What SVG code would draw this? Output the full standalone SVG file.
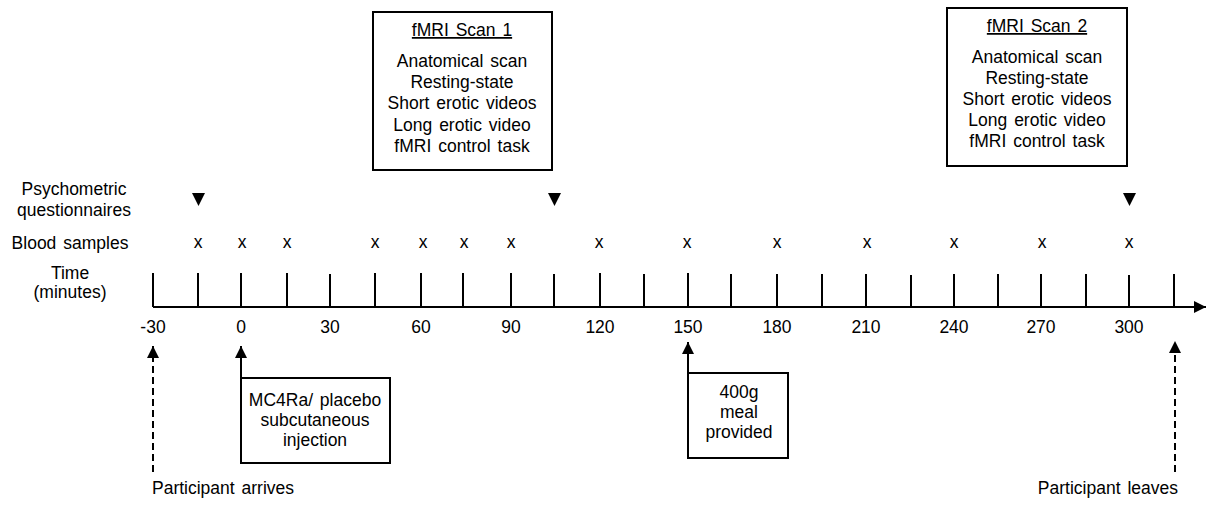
<svg xmlns="http://www.w3.org/2000/svg" width="1208" height="507" viewBox="0 0 1208 507">
<style>
text{font-family:"Liberation Sans",Arial,sans-serif;font-size:17.5px;word-spacing:2px;fill:#000}
.c{text-anchor:middle}
.ln{stroke:#000;stroke-width:2;fill:none}
.box{stroke:#000;stroke-width:2;fill:#fff}
.dash{stroke-dasharray:7 4}
.tri{fill:#000}
</style>
<defs>
<marker id="ah" viewBox="0 0 12 12" refX="12" refY="6" markerWidth="12" markerHeight="12" markerUnits="userSpaceOnUse" orient="auto">
<path d="M0,0 L12,6 L0,12 Z" fill="#000"/>
</marker>
</defs>
<rect width="1208" height="507" fill="#fff"/>

<g id="row-labels">
<text class="c" x="74" y="195">Psychometric</text>
<text class="c" x="74" y="216">questionnaires</text>
<text class="c" x="70" y="249">Blood samples</text>
<text class="c" x="70" y="279">Time</text>
<text class="c" x="70" y="298">(minutes)</text>
</g>

<g id="scan1">
<rect class="box" x="373" y="12" width="179" height="158"/>
<text class="c" x="462" y="36" text-decoration="underline">fMRI Scan 1</text>
<text class="c" x="462" y="67">Anatomical scan</text>
<text class="c" x="462" y="88">Resting-state</text>
<text class="c" x="462" y="109">Short erotic videos</text>
<text class="c" x="462" y="131">Long erotic video</text>
<text class="c" x="462" y="152">fMRI control task</text>
</g>

<g id="scan2">
<rect class="box" x="947" y="8" width="180" height="158"/>
<text class="c" x="1037" y="32" text-decoration="underline">fMRI Scan 2</text>
<text class="c" x="1037" y="63">Anatomical scan</text>
<text class="c" x="1037" y="84">Resting-state</text>
<text class="c" x="1037" y="105">Short erotic videos</text>
<text class="c" x="1037" y="126">Long erotic video</text>
<text class="c" x="1037" y="147">fMRI control task</text>
</g>

<g id="questionnaires">
<polygon class="tri" points="192,193 205,193 198.5,206"/>
<polygon class="tri" points="548,193 561,193 554.5,206"/>
<polygon class="tri" points="1123,193 1136,193 1129.5,206"/>
</g>

<g id="blood-samples">
<text class="c" x="198" y="248">x</text>
<text class="c" x="242" y="248">x</text>
<text class="c" x="287" y="248">x</text>
<text class="c" x="375" y="248">x</text>
<text class="c" x="423" y="248">x</text>
<text class="c" x="464" y="248">x</text>
<text class="c" x="511" y="248">x</text>
<text class="c" x="599" y="248">x</text>
<text class="c" x="687" y="248">x</text>
<text class="c" x="777" y="248">x</text>
<text class="c" x="867" y="248">x</text>
<text class="c" x="954" y="248">x</text>
<text class="c" x="1042" y="248">x</text>
<text class="c" x="1129" y="248">x</text>
</g>

<g id="timeline">
<line class="ln" x1="153" y1="307" x2="1206" y2="307" marker-end="url(#ah)"/>
<path class="ln" d="M153,273V307 M198,273V307 M241,273V307 M287,273V307 M330,274V307 M375,273V307 M421,273V307 M463,273V307 M511,273V307 M554,274V307 M600,273V307 M644,274V307 M688,273V307 M731,274V307 M777,274V307 M822,274V307 M866,274V307 M911,275V307 M954,274V307 M998,274V307 M1041,274V307 M1086,274V307 M1129,275V307 M1174,274V307"/>
<text class="c" x="153" y="333">-30</text>
<text class="c" x="241" y="333">0</text>
<text class="c" x="330" y="333">30</text>
<text class="c" x="421" y="333">60</text>
<text class="c" x="511" y="333">90</text>
<text class="c" x="600" y="333">120</text>
<text class="c" x="688" y="333">150</text>
<text class="c" x="777" y="333">180</text>
<text class="c" x="866" y="333">210</text>
<text class="c" x="954" y="333">240</text>
<text class="c" x="1041" y="333">270</text>
<text class="c" x="1129" y="333">300</text>
</g>

<g id="injection">
<rect class="box" x="241" y="378" width="149" height="85"/>
<text class="c" x="315" y="406">MC4Ra/ placebo</text>
<text class="c" x="315" y="426">subcutaneous</text>
<text class="c" x="315" y="446">injection</text>
</g>

<g id="meal">
<rect class="box" x="688" y="373" width="100" height="85"/>
<text class="c" x="739" y="398">400g</text>
<text class="c" x="739" y="418">meal</text>
<text class="c" x="739" y="438">provided</text>
</g>

<g id="arrive">
<text x="152" y="494">Participant arrives</text>
</g>
<g id="leave">
<text x="1178" y="494" text-anchor="end">Participant leaves</text>
</g>

<g id="connectors">
<line class="ln dash" x1="153" y1="472" x2="153" y2="346" marker-end="url(#ah)"/>
<line class="ln" x1="241" y1="463" x2="241" y2="346" marker-end="url(#ah)"/>
<line class="ln" x1="688" y1="458" x2="688" y2="342" marker-end="url(#ah)"/>
<line class="ln dash" x1="1175" y1="472" x2="1175" y2="341" marker-end="url(#ah)"/>
</g>
</svg>
